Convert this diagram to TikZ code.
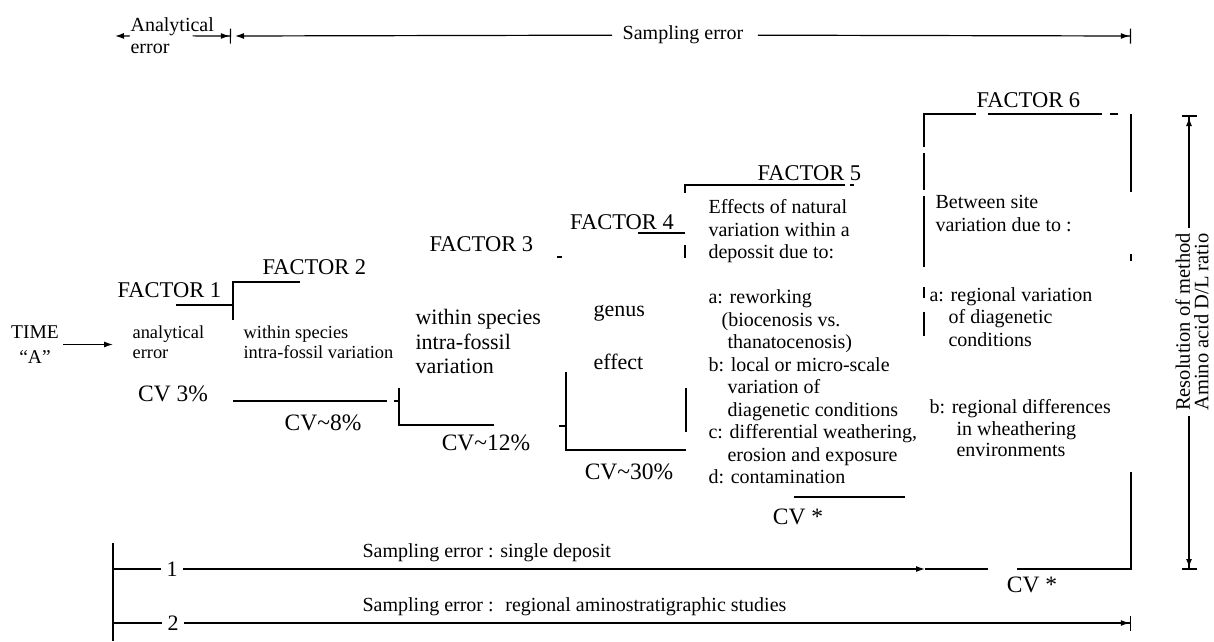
\documentclass[tikz,border=0pt]{standalone}
\usepackage{fontspec}
\setmainfont{Liberation Serif}
\usetikzlibrary{arrows.meta}

\begin{document}
\begin{tikzpicture}[x=1pt, y=-1pt, line width=1.2pt, >={Latex[length=9pt,width=6pt]},
    body/.style={inner sep=0pt, align=left, anchor=north west, font=\fontsize{20}{22.5}\selectfont},
    small/.style={body, font=\fontsize{18.4}{20}\selectfont},
    big/.style={body, font=\fontsize{22}{24.5}\selectfont},
    fac/.style={inner sep=0pt, anchor=west, font=\fontsize{22.5}{24}\selectfont},
    cv/.style={inner sep=0pt, font=\fontsize{23.5}{25}\selectfont},
    num/.style={inner sep=5pt, font=\fontsize{22}{24}\selectfont},
    dimarr/.style={-{>Bar[width=15pt]}}]
    \useasboundingbox (0, 0) rectangle (1214, 641);
    \node[body] (anlab) at (130, 17) {Analytical\\error};
    \node[body, anchor=center] (samp) at (683, 35) {Sampling error};
    \coordinate (aL) at (115, 36);
    \coordinate (aR) at (231, 36);
    \coordinate (sL) at (235, 36);
    \coordinate (sR) at (1131, 36);
    \draw[->] (anlab.west) -- (aL);
    \draw[dimarr] ([xshift=-22pt]anlab.east) -- (aR);
    \draw[->, shorten <=10pt] (samp) -- (sL);
    \draw[dimarr, shorten <=14pt] (samp) -- (sR);
    \node[fac] (f1) at (117, 290) {FACTOR 1};
    \node[fac] (f2) at (262, 267) {FACTOR 2};
    \node[fac] (f3) at (429, 244) {FACTOR 3};
    \node[fac, anchor=center] (f4) at (622, 222) {FACTOR 4};
    \node[fac] (f5) at (757, 173) {FACTOR 5};
    \node[fac] (f6) at (976, 100) {FACTOR 6};
    \node[inner sep=0pt, align=center, anchor=north, font=\fontsize{19.5}{25}\selectfont] (time) at (35, 325) {TIME\\``A''};
    \node[small] (anerr) at (132, 325) {analytical\\error};
    \node[small] (intra) at (243, 325) {within species\\intra-fossil variation};
    \node[big] (species) at (415, 309) {within species\\intra-fossil\\variation};
    \node[big, anchor=west] (genus) at (593, 313) {genus};
    \node[big, anchor=west] (effect) at (593, 362) {effect};
    \node[body] (deposit) at (708, 199) {Effects of natural\\variation within a\\depossit due to:\\[22.5pt]
      a: reworking\\\hspace*{13pt}(biocenosis vs.\\\hspace*{19pt}thanatocenosis)\\
      b: local or micro-scale\\\hspace*{19pt}variation of\\\hspace*{19pt}diagenetic conditions\\
      c: differential weathering,\\\hspace*{19pt}erosion and exposure\\d: contamination};
    \node[body, font=\fontsize{20}{23}\selectfont] (site) at (935, 195) {Between site\\variation due to :};
    \node[body] (sitea) at (929, 287) {a: regional variation\\\hspace*{19pt}of diagenetic\\\hspace*{19pt}conditions};
    \node[body, font=\fontsize{20}{21.5}\selectfont] (siteb) at (929, 399) {b: regional differences\\\hspace*{27pt}in wheathering\\\hspace*{27pt}environments};
    \draw[->, shorten <=4pt, shorten >=19pt] (time.east) -- (time.east -| anerr.west);
    \node[cv] (cv1) at (173, 394) {CV 3\%};
    \node[cv] (cv2) at (323, 423) {CV\textasciitilde 8\%};
    \node[cv] (cv3) at (486, 443) {CV\textasciitilde 12\%};
    \node[cv] (cv4) at (629, 472) {CV\textasciitilde 30\%};
    \node[cv] (cv5) at (798, 517) {CV *};
    \node[cv] (cv6) at (1032, 585) {CV *};
    \draw (176, 305) -- (233, 305) (233, 320) -- (233, 282) -- (300, 282)
      (233, 401) -- (387, 401) (394, 401) -- (398, 401)
      (399, 388) -- (399, 425) -- (494, 425)
      (557, 257) -- (562, 257)
      (559, 426) -- (566, 426) (566, 372) -- (566, 450) -- (686, 450)
      (686, 388) -- (686, 432)
      (638, 233) -- (685, 233) (685, 245) -- (685, 258)
      (685, 193) -- (685, 185) -- (845, 185) (850, 185) -- (854, 185)
      (794, 497) -- (905, 497);
    \draw (924, 147) -- (924, 114) -- (976, 114) (988, 114) -- (1102, 114) (1110, 114) -- (1118, 114)
      (924, 153) -- (924, 190) (924, 196) -- (924, 267) (924, 287) -- (924, 298) (924, 312) -- (924, 336)
      (1131, 114) -- (1131, 192) (1131, 254) -- (1131, 261)
      (1131, 472) -- (1131, 569) -- (1017, 569) (988, 569) -- (925, 569);
    \node[body, anchor=west] (row1) at (362, 553) {Sampling error : single deposit};
    \node[body, anchor=west] (row2) at (362, 607) {Sampling error : \ regional aminostratigraphic studies};
    \node[num] (one) at (172, 569) {1};
    \node[num] (two) at (173, 623) {2};
    \coordinate (r1) at (925, 569);
    \coordinate (r2) at (1131, 623);
    \draw (113, 543) -- (113, 641);
    \draw (113, 569) -- (one);
    \draw (113, 623) -- (two);
    \draw[->] (one) -- (r1);
    \draw[dimarr] (two) -- (r2);
    \node[inner sep=1pt, rotate=90, align=center, font=\fontsize{20.5}{18.5}\selectfont] (res) at (1192, 322) {Resolution of method\\Amino acid D/L ratio};
    \coordinate (rtop) at (1189, 115);
    \coordinate (rbot) at (1189, 570);
    \draw[dimarr, line width=2pt, shorten <=4pt] (res.east -| rtop) -- (rtop);
    \draw[dimarr, line width=2pt, shorten <=4pt] (res.west -| rbot) -- (rbot);
  \end{tikzpicture}
\end{document}
